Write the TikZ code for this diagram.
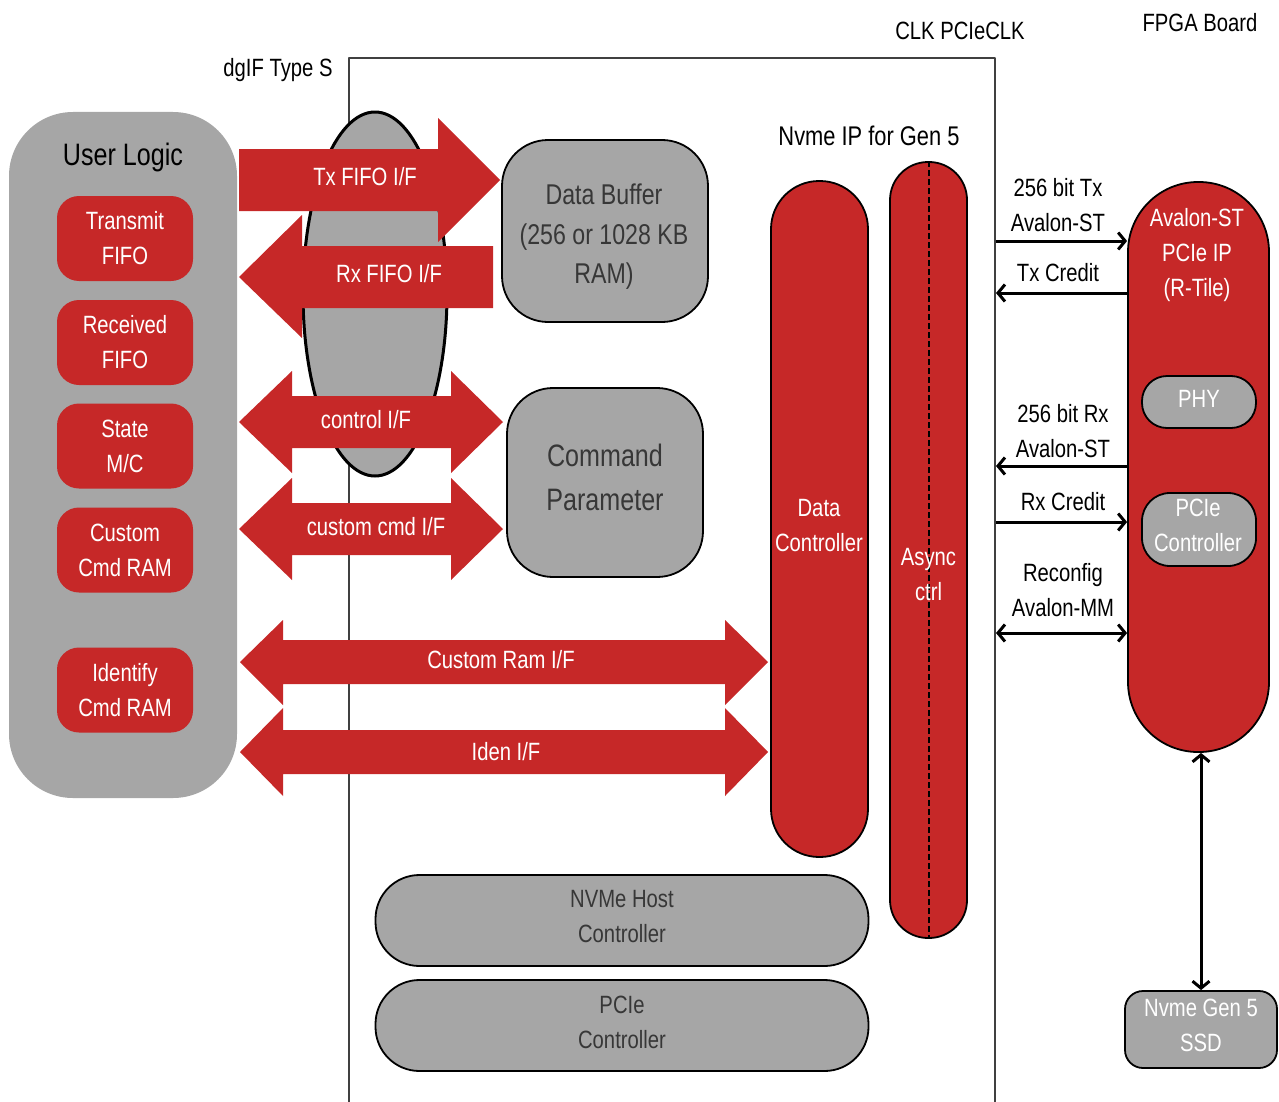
\documentclass[tikz,border=0pt]{standalone}
\usepackage{fontspec}
\setmainfont[FakeStretch=0.81]{Liberation Sans}
\usetikzlibrary{arrows.meta,shapes.geometric}
\definecolor{ifred}{RGB}{198,40,40}
\definecolor{ifgray}{RGB}{166,166,166}
\definecolor{iftext}{RGB}{55,55,55}

\begin{document}
\begin{tikzpicture}[x=0.5pt,y=-0.5pt,line join=round,
  >={Straight Barb[length=3.5pt,width=8.5pt]},
  txt/.style={font=\fontsize{12.5}{17.5}\selectfont,align=center,inner sep=0pt},
  redbox/.style={txt,fill=ifred,text=white,rounded corners=11pt,minimum width=68pt,minimum height=42.5pt},
  graybox/.style={txt,draw=black,line width=0.9pt,fill=ifgray,text=iftext},
  pill/.style={txt,draw=black,line width=0.9pt,fill=ifred,text=white},
  arrtxt/.style={txt,text=white},
  sig/.style={line width=1.5pt,black}]
\useasboundingbox (0,0) rectangle (1279,1102);

% dgIF box and titles
\draw[black!75,line width=0.6pt] (349,1102) -- (349,58) -- (995,58) -- (995,1102);
\node[txt] (dgif) at (278,70) {dgIF Type S};
\node[txt] (clk) at (960,31) {CLK PCIeCLK};
\node[txt] (fpga) at (1200,23) {FPGA Board};
\node[txt,font=\fontsize{13.5}{17}\selectfont] (nvmeip) at (869,136) {Nvme IP for Gen 5};

% user logic
\node[fill=ifgray,rounded corners=32pt,minimum width=114pt,minimum height=343pt] (user) at (123,455) {};
\node[txt,font=\fontsize{15.5}{18}\selectfont] (userlbl) at (123,157) {User Logic};
\node[redbox] (tfifo) at (125,238.5) {Transmit\\FIFO};
\node[redbox] (rfifo) at (125,342.5) {Received\\FIFO};
\node[redbox] (state) at (125,446) {State\\M/C};
\node[redbox] (cram) at (125,550) {Custom\\Cmd RAM};
\node[redbox] (iram) at (125,690) {Identify\\Cmd RAM};

% interface ellipse
\node[ellipse,draw=black,line width=1.5pt,fill=ifgray,minimum width=72pt,minimum height=182pt,inner sep=0pt] (mux) at (375,294) {};

% fat arrows
\fill[ifred] (239,149) -- (438,149) -- (438,118) -- (500,180) -- (438,242) -- (438,211) -- (239,211) -- cycle;
\node[arrtxt] (txif) at (365,177) {Tx FIFO I/F};
\fill[ifred] (493,246) -- (302,246) -- (302,215) -- (239,277) -- (302,338) -- (302,308) -- (493,308) -- cycle;
\node[arrtxt] (rxif) at (389,274) {Rx FIFO I/F};
\fill[ifred] (239,422) -- (292,371) -- (292,396) -- (451,396) -- (451,371) -- (503,422) -- (451,473) -- (451,448) -- (292,448) -- (292,473) -- cycle;
\node[arrtxt] (ctlif) at (366,420) {control I/F};
\fill[ifred] (239,529) -- (292,478) -- (292,503) -- (451,503) -- (451,478) -- (503,529) -- (451,580) -- (451,555) -- (292,555) -- (292,580) -- cycle;
\node[arrtxt] (cmdif) at (376,527) {custom cmd I/F};
\fill[ifred] (240,662) -- (283,620) -- (283,640) -- (725,640) -- (725,620) -- (768,662) -- (725,705) -- (725,684) -- (283,684) -- (283,705) -- cycle;
\node[arrtxt] (ramif) at (501,660) {Custom Ram I/F};
\fill[ifred] (240,752) -- (283,708) -- (283,730) -- (725,730) -- (725,708) -- (768,752) -- (725,796) -- (725,774) -- (283,774) -- (283,796) -- cycle;
\node[arrtxt] (idenif) at (506,752) {Iden I/F};

% memories
\node[graybox,rounded corners=23pt,minimum width=103pt,minimum height=91pt] (dbuf) at (605,231) {};
\node[txt,text=iftext,font=\fontsize{14.3}{19.75}\selectfont] (dbuflbl) at (604,237) {Data Buffer\\(256 or 1028 KB\\RAM)};
\node[graybox,rounded corners=23pt,minimum width=98pt,minimum height=94.5pt] (cmdp) at (605,482.5) {};
\node[txt,text=iftext,font=\fontsize{15.5}{22}\selectfont] (cmdplbl) at (605,477) {Command\\Parameter};

% controllers
\node[pill,rounded corners=24pt,minimum width=48.5pt,minimum height=338pt] (dctl) at (819.5,519) {};
\node[arrtxt] (dctllbl) at (819,526) {Data\\Controller};
\node[pill,rounded corners=19pt,minimum width=38.5pt,minimum height=388pt] (async) at (928.5,550) {};
\draw[black,line width=1pt,dash pattern=on 3pt off 1.5pt] (async.north) -- (async.south);
\node[arrtxt] (asynclbl) at (928.5,575) {Async\\ctrl};
\node[graybox,rounded corners=22pt,minimum width=246.5pt,minimum height=45.5pt] (host) at (622,920.5) {};
\node[txt,text=iftext] (hostlbl) at (622,917) {NVMe Host\\Controller};
\node[graybox,rounded corners=22pt,minimum width=246.5pt,minimum height=45.5pt] (pciebot) at (622,1025.5) {};
\node[txt,text=iftext] (pciebotlbl) at (622,1022) {PCIe\\Controller};

% PCIe hard IP and SSD
\node[pill,rounded corners=35pt,minimum width=70.5pt,minimum height=285pt] (aval) at (1198.5,467) {};
\node[arrtxt] (avallbl) at (1197,255) {Avalon-ST\\PCIe IP\\(R-Tile)};
\node[graybox,text=white,rounded corners=12.5pt,minimum width=57pt,minimum height=26pt] (phy) at (1199,402) {};
\node[arrtxt] (phylbl) at (1199,399) {PHY};
\node[graybox,text=white,rounded corners=14pt,minimum width=57pt,minimum height=36.5pt] (pcie) at (1199,529.5) {};
\node[arrtxt] (pcielbl) at (1198,525.5) {PCIe\\Controller};
\node[graybox,text=white,rounded corners=9pt,minimum width=76pt,minimum height=38.5pt] (ssd) at (1201,1029.5) {};
\node[arrtxt] (ssdlbl) at (1201,1025.5) {Nvme Gen 5\\SSD};

% streams
\coordinate (txst) at (996,241);
\coordinate (txcr) at (996,293);
\coordinate (rxst) at (996,466);
\coordinate (rxcr) at (996,522);
\coordinate (reconf) at (996,633);
\draw[sig,->] (txst) -- (txst -| aval.west);
\draw[sig,->] (txcr -| aval.west) -- (txcr);
\draw[sig,->] (rxst -| aval.west) -- (rxst);
\draw[sig,->] (rxcr) -- (rxcr -| aval.west);
\draw[sig,<->] (reconf) -- (reconf -| aval.west);
\draw[sig,<->] (ssd.north |- aval.south) -- (ssd.north);
\node[txt] (txstlbl) at (1058,205) {256 bit Tx\\Avalon-ST};
\node[txt] (txcrlbl) at (1058,273) {Tx Credit};
\node[txt] (rxstlbl) at (1063,431) {256 bit Rx\\Avalon-ST};
\node[txt] (rxcrlbl) at (1063,502) {Rx Credit};
\node[txt] (reconflbl) at (1063,590) {Reconfig\\Avalon-MM};
\end{tikzpicture}
\end{document}
